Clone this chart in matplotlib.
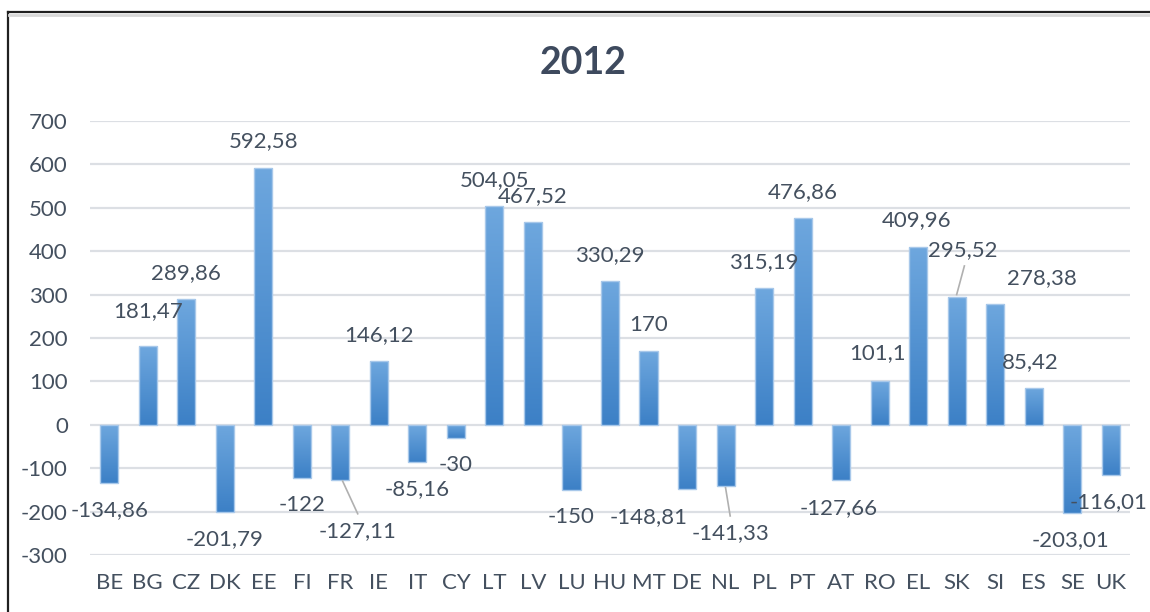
import numpy as np
import matplotlib
matplotlib.use("Agg")
import matplotlib.pyplot as plt
from matplotlib.lines import Line2D
from matplotlib.colors import LinearSegmentedColormap

plt.rcParams['font.family'] = ['Lato', 'DejaVu Sans']
plt.rcParams['axes.unicode_minus'] = False

countries = ["BE", "BG", "CZ", "DK", "EE", "FI", "FR", "IE", "IT", "CY", "LT", "LV", "LU", "HU",
             "MT", "DE", "NL", "PL", "PT", "AT", "RO", "EL", "SK", "SI", "ES", "SE", "UK"]
values = [-134.86, 181.47, 289.86, -201.79, 592.58, -122, -127.11, 146.12, -85.16, -30,
          504.05, 467.52, -150, 330.29, 170, -148.81, -141.33, 315.19, 476.86, -127.66,
          101.1, 409.96, 295.52, 278.38, 85.42, -203.01, -116.01]
yticks = [-300, -200, -100, 0, 100, 200, 300, 400, 500, 600, 700]
title = "2012"

# label placement (layout only): (dx in category units, label centre y in data units)
label_pos = {
    "BG": (0, 262), "FR": (0.45, -244), "NL": (0.12, -249), "SK": (0.16, 403),
    "DE": (-1.0, -212), "SI": (1.22, 339), "ES": (-0.08, 145), "UK": (-0.05, -177),
    "SE": (-0.05, -265), "AT": (-0.05, -191), "RO": (-0.05, 166), "EL": (-0.05, 472),
}
leaders = {"FR": ((0.06, -130), (0.45, -205)),
           "NL": ((0.0, -145), (0.12, -210)),
           "SK": ((0.0, 300), (0.2, 366))}

W, H = 1150, 612
fig = plt.figure(figsize=(W / 100, H / 100), dpi=100)
ax = fig.add_axes([90 / W, 57 / H, 1040 / W, 434 / H])

txt_col = "#44505f"
fs = 16
x = np.arange(len(countries))
bars = ax.bar(x, values, width=0.47, color="none", edgecolor="#a8c8ea", linewidth=1.0, zorder=3)

grad = np.linspace(0, 1, 256).reshape(-1, 1)
cmap = LinearSegmentedColormap.from_list("g", ["#6ea7de", "#3c80c6"])
for b, v in zip(bars, values):
    x0 = b.get_x(); x1 = x0 + b.get_width()
    lo, hi = min(0, v), max(0, v)
    im = ax.imshow(grad, extent=[x0, x1, lo, hi], origin="upper", cmap=cmap,
                   aspect="auto", zorder=2, interpolation="bilinear")
    im.set_clip_path(b)

for i, (c, v) in enumerate(zip(countries, values)):
    lab = f"{v:g}".replace(".", ",")
    if c in label_pos:
        dx, ly = label_pos[c]
    else:
        dx, ly = 0, v + (60 if v > 0 else -62)
    ax.text(i + dx, ly, lab, ha="center", va="center", fontsize=fs, color=txt_col, zorder=5)
    if c in leaders:
        (ax0, ay0), (ax1, ay1) = leaders[c]
        ax.plot([i + ax0, i + ax1], [ay0, ay1], color="#b0b0b0", lw=1.2, zorder=4)

ax.set_xlim(-0.5, len(countries) - 0.5)
ax.set_ylim(-300, 700)
ax.set_yticks(yticks)
ax.set_yticklabels([str(t) for t in yticks])
ax.set_xticks(x)
ax.set_xticklabels(countries)
ax.tick_params(axis="both", length=0, labelsize=fs, labelcolor=txt_col)
ax.tick_params(axis="y", pad=16)
ax.tick_params(axis="x", pad=13)
ax.grid(axis="y", color="#dcdfe4", lw=1.6, zorder=0)
for s in ax.spines.values():
    s.set_visible(False)

fig.text(583 / W, 1 - 63 / H, title, ha="center", va="center", fontsize=27,
         fontweight="bold", color="#3e4a5e")

# figure frame (top and left border)
fig.add_artist(Line2D([8 / W, 1], [1 - 12 / H, 1 - 12 / H], color="#202020", lw=1.6, transform=fig.transFigure))
fig.add_artist(Line2D([8 / W, 8 / W], [0, 1 - 12 / H], color="#202020", lw=1.6, transform=fig.transFigure))
fig.add_artist(Line2D([9 / W, 1], [1 - 15 / H, 1 - 15 / H], color="#d8d8d8", lw=2, transform=fig.transFigure))

fig.savefig("out.png", dpi=100)
